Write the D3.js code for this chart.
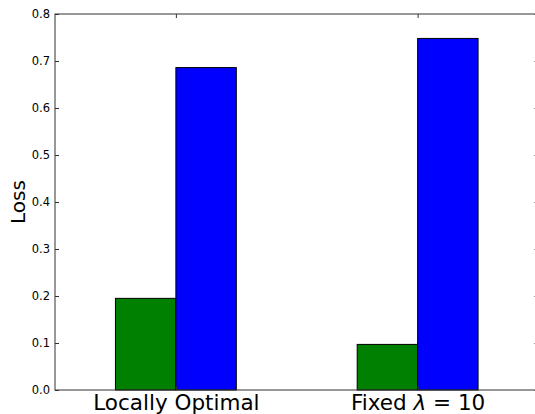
<!DOCTYPE html>
<html>
<head>
<meta charset="utf-8">
<script src="https://cdn.jsdelivr.net/npm/d3@7"></script>
<style>
  html, body { margin: 0; padding: 0; background: #fff; }
  svg { display: block; font-family: "DejaVu Sans", sans-serif; }
</style>
</head>
<body>
<svg id="chart" width="535" height="414"></svg>
<script>
// Loss per method, two series side by side
const categories = ["Locally Optimal", "Fixed \u03bb = 10"];
const seriesGreen = [0.195, 0.097];
const seriesBlue = [0.686, 0.748];
const yTicks = [0.0, 0.1, 0.2, 0.3, 0.4, 0.5, 0.6, 0.7, 0.8];

const svg = d3.select("#chart");
const plotLeft = 55, plotTop = 14, plotBottom = 390, plotRight = 538.5;

const x = d3.scaleLinear().domain([-0.5, 1.5]).range([plotLeft, plotRight]);
const y = d3.scaleLinear().domain([0, 0.8]).range([plotBottom, plotTop]);
const barW = 0.25;

// bars: green sits left of the category position, blue right
const g = svg.append("g");
g.selectAll("rect.green").data(seriesGreen).enter().append("rect")
  .attr("class", "green")
  .attr("x", (d, i) => x(i - barW))
  .attr("y", d => y(d))
  .attr("width", x(barW) - x(0))
  .attr("height", d => y(0) - y(d))
  .attr("fill", "#008000").attr("stroke", "#000").attr("stroke-width", 1);
g.selectAll("rect.blue").data(seriesBlue).enter().append("rect")
  .attr("class", "blue")
  .attr("x", (d, i) => x(i))
  .attr("y", d => y(d))
  .attr("width", x(barW) - x(0))
  .attr("height", d => y(0) - y(d))
  .attr("fill", "#0000ff").attr("stroke", "#000").attr("stroke-width", 1);

// frame
svg.append("rect")
  .attr("x", plotLeft).attr("y", plotTop)
  .attr("width", plotRight - plotLeft).attr("height", plotBottom - plotTop)
  .attr("fill", "none").attr("stroke", "#333").attr("stroke-width", 1);

// y axis (ticks point inward) and mirrored ticks on the right
const yAxis = d3.axisLeft(y).tickValues(yTicks).tickFormat(d3.format(".1f"))
  .tickSizeInner(-4).tickSizeOuter(0).tickPadding(5);
const ya = svg.append("g").attr("transform", `translate(${plotLeft},0)`).call(yAxis);
ya.select(".domain").remove();
ya.selectAll("line").attr("stroke", "#333");
ya.selectAll("text").attr("font-size", 11.5).attr("fill", "#000")
  .attr("font-family", "DejaVu Sans, sans-serif");

const yr = svg.append("g").attr("transform", `translate(${plotRight},0)`)
  .call(d3.axisRight(y).tickValues(yTicks).tickSizeInner(-4).tickSizeOuter(0).tickFormat(""));
yr.select(".domain").remove();
yr.selectAll("line").attr("stroke", "#333");

// x axis: category labels at the bottom, inward ticks at top
const xb = svg.append("g").attr("transform", `translate(0,${plotBottom})`)
  .call(d3.axisBottom(x).tickValues([0, 1]).tickSizeInner(-4).tickSizeOuter(0)
    .tickFormat(i => categories[i]));
xb.select(".domain").remove();
xb.selectAll("line").attr("stroke", "#333");
xb.selectAll("text").attr("font-size", 21.5).attr("fill", "#000")
  .attr("font-family", "DejaVu Sans, sans-serif")
  .attr("y", 20).attr("dy", 0)
  .each(function () {
    // set the Greek symbol in italic, as math text
    const t = d3.select(this);
    const s = t.text();
    const k = s.indexOf("\u03bb");
    if (k < 0) return;
    t.text(null);
    t.append("tspan").text(s.slice(0, k));
    t.append("tspan").attr("font-style", "italic").text("\u03bb");
    t.append("tspan").text(s.slice(k + 1));
  });

const xt = svg.append("g").attr("transform", `translate(0,${plotTop})`)
  .call(d3.axisTop(x).tickValues([0, 1]).tickSizeInner(-4).tickSizeOuter(0).tickFormat(""));
xt.select(".domain").remove();
xt.selectAll("line").attr("stroke", "#333");

// y label
svg.append("text")
  .attr("transform", `translate(25,${(plotTop + plotBottom) / 2}) rotate(-90)`)
  .attr("text-anchor", "middle")
  .attr("font-size", 20)
  .text("Loss");
</script>
</body>
</html>
